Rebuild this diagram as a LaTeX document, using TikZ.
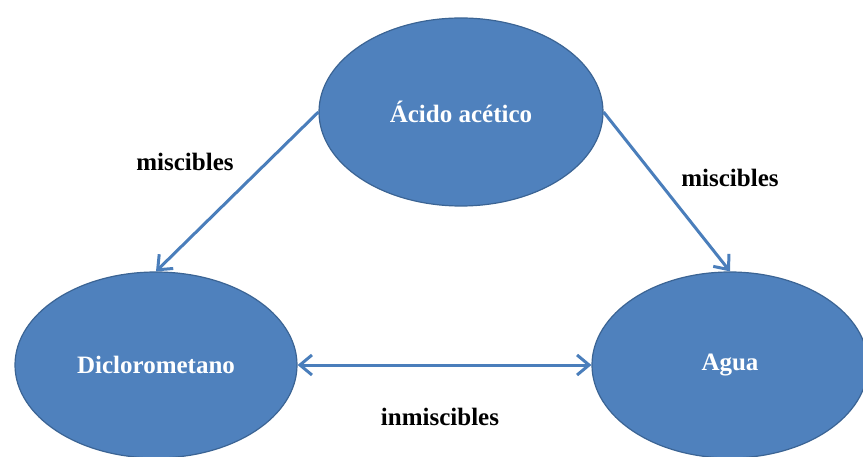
\documentclass[tikz,border=0pt]{standalone}
\usepackage{fontspec}
\setmainfont{Liberation Serif}
\usetikzlibrary{shapes.geometric,arrows.meta}
\definecolor{ovalblue}{HTML}{4F81BD}
\definecolor{ovalline}{HTML}{3B6494}
\definecolor{arrowblue}{HTML}{4A7EBB}
\begin{document}
\begin{tikzpicture}[x=1pt,y=1pt,
    oval/.style={ellipse,fill=ovalblue,draw=ovalline,line width=1.2pt,inner sep=0pt,
      text=white,font=\fontsize{25}{30}\selectfont\bfseries},
    link/.style={draw=arrowblue,line width=3pt,-{Straight Barb[length=12pt,width=20pt]}},
    lbl/.style={font=\fontsize{25}{30}\selectfont\bfseries}]
  \useasboundingbox (0,0) rectangle (863,456);
  % the three solvents
  \node[oval,minimum width=284pt,minimum height=188pt] (acido) at (461,344) {Ácido acético};
  \node[oval,minimum width=282pt,minimum height=186pt] (dcm) at (156,91) {Diclorometano};
  \node[oval,minimum width=276pt,minimum height=186pt] (agua) at (730,91) {Agua};
  % how they mix
  \draw[link] (acido.west) -- (dcm.north);
  \draw[link] (acido.east) -- (agua.north);
  \draw[link,{Straight Barb[length=12pt,width=20pt]}-{Straight Barb[length=12pt,width=20pt]}] (dcm.east) -- (agua.west);
  \node[lbl] (mixl) at (185,294) {miscibles};
  \node[lbl] (mixr) at (730,278) {miscibles};
  \node[lbl] (nomix) at (440,39) {inmiscibles};
\end{tikzpicture}
\end{document}
